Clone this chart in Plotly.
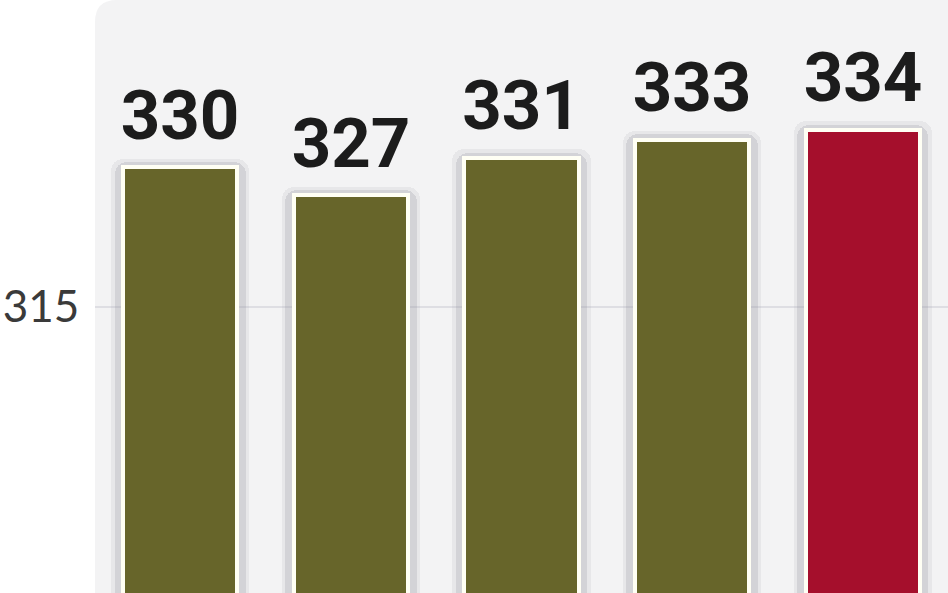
import plotly.graph_objects as go

categories = ["2015", "2016", "2017", "2018", "2019"]
values = [330, 327, 331, 333, 334]
bar_colors = ["#67652a", "#67652a", "#67652a", "#67652a", "#a50f2c"]
tick_values = [315]
tick_labels = ["315"]

fig = go.Figure()

# soft shadow layers behind bars (outer layer also carries the value labels)
shadow_layers = [(0.81, 0.95, "rgba(160,160,170,0.14)", True),
                 (0.77, 0.6, "rgba(140,140,150,0.22)", False)]
for w, extra, col, with_text in shadow_layers:
    fig.add_trace(go.Bar(
        x=categories, y=[v + extra for v in values], base=0,
        width=w, marker=dict(color=col, line=dict(width=0), cornerradius=12),
        text=[str(v) for v in values] if with_text else None,
        textposition="outside" if with_text else "none",
        textfont=dict(family="Roboto, sans-serif", size=69, color="#1c1c1c", weight="bold"),
        constraintext="none", cliponaxis=False,
        hoverinfo="skip", showlegend=False,
    ))

fig.add_trace(go.Bar(
    x=categories, y=values, width=0.67,
    marker=dict(color=bar_colors, line=dict(color="#fffff4", width=4), cornerradius=9),
    textposition="none", cliponaxis=False, showlegend=False,
))

rx = 22 / 853
ry = 22 / 593
fig.add_shape(type="path", xref="paper", yref="paper", layer="below",
              path=f"M 0,0 L 0,{1-ry} Q 0,1 {rx},1 L 1,1 L 1,0 Z",
              fillcolor="#f3f3f4", line=dict(width=0))

fig.update_layout(
    width=948, height=593,
    margin=dict(l=95, r=0, t=0, b=0, autoexpand=False),
    paper_bgcolor="white", plot_bgcolor="rgba(0,0,0,0)",
    barmode="overlay", bargap=0,
    showlegend=False,
)
fig.update_xaxes(showticklabels=False, showgrid=False, zeroline=False, showline=False)
fig.update_yaxes(range=[284.25, 348.0], tickvals=tick_values, ticktext=tick_labels,
                 showgrid=True, gridcolor="#dedee3", gridwidth=2, zeroline=False, showline=False,
                 automargin=False,
                 ticks="outside", ticklen=6, tickcolor="rgba(0,0,0,0)",
                 tickfont=dict(family="Lato, Open Sans, sans-serif", size=44, color="#3a3a3a"))

fig.write_html("out.html", config={"displayModeBar": False},
               post_script="document.body.style.margin='0';document.body.style.padding='0';")
